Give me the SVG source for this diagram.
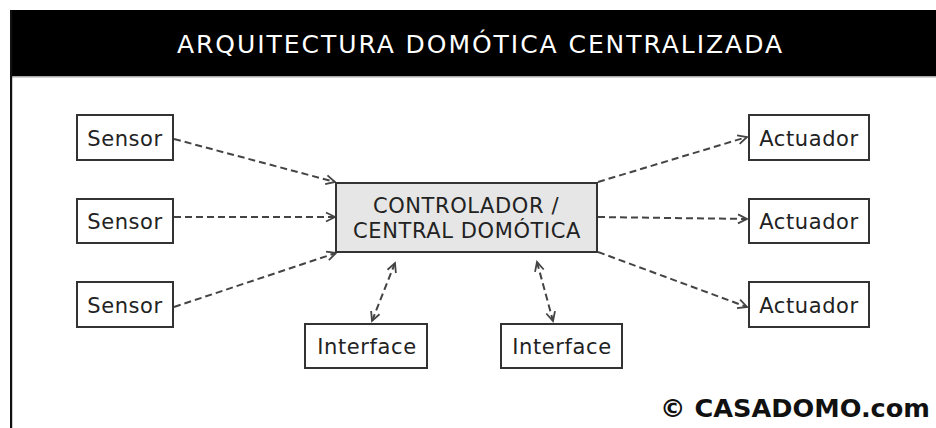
<svg xmlns="http://www.w3.org/2000/svg" width="936" height="428" viewBox="0 0 936 428">
<style>
.box{fill:#fff;stroke:#333;stroke-width:2}
.ctrl{fill:#e6e6e6;stroke:#333;stroke-width:2}
.lbl{font-family:"DejaVu Sans",Verdana,sans-serif;font-size:21px;fill:#222;text-anchor:middle;letter-spacing:0.6px}
.conn{fill:none;stroke:#444;stroke-width:2;stroke-dasharray:7 4}
</style>
<defs>
<marker id="ah" viewBox="0 0 12 12" refX="10" refY="6" markerWidth="12" markerHeight="12" markerUnits="userSpaceOnUse" orient="auto-start-reverse">
<path d="M1,1.5 L10,6 L1,10.5" fill="none" stroke="#444" stroke-width="1.8"/>
</marker>
</defs>
<rect x="0" y="0" width="936" height="428" fill="#fff"/>
<rect x="10" y="10" width="926" height="66" fill="#000"/>
<rect x="12" y="76" width="924" height="1.5" fill="#aaa"/>
<rect x="10" y="10" width="2.2" height="418" fill="#111"/>
<text x="177" y="53" textLength="605" lengthAdjust="spacing" font-family="'DejaVu Sans',Verdana,sans-serif" font-size="25" fill="#fff">ARQUITECTURA DOMÓTICA CENTRALIZADA</text>

<g id="connectors">
<line class="conn" x1="174" y1="139" x2="335" y2="182" marker-end="url(#ah)"/>
<line class="conn" x1="174" y1="217" x2="335" y2="217" marker-end="url(#ah)"/>
<line class="conn" x1="174" y1="307" x2="336" y2="253" marker-end="url(#ah)"/>
<line class="conn" x1="598" y1="182" x2="747" y2="137" marker-end="url(#ah)"/>
<line class="conn" x1="598" y1="217" x2="747" y2="219" marker-end="url(#ah)"/>
<line class="conn" x1="598" y1="252" x2="747" y2="307" marker-end="url(#ah)"/>
<line class="conn" x1="395" y1="263" x2="372" y2="321" marker-start="url(#ah)" marker-end="url(#ah)"/>
<line class="conn" x1="537" y1="262" x2="553" y2="321" marker-start="url(#ah)" marker-end="url(#ah)"/>
</g>

<g id="sensor1"><rect class="box" x="77" y="115" width="96" height="45"/><text class="lbl" x="125" y="146">Sensor</text></g>
<g id="sensor2"><rect class="box" x="77" y="199" width="96" height="44"/><text class="lbl" x="125" y="229">Sensor</text></g>
<g id="sensor3"><rect class="box" x="77" y="282" width="96" height="45"/><text class="lbl" x="125" y="313">Sensor</text></g>

<g id="controller"><rect class="ctrl" x="336" y="183" width="261" height="69"/>
<text class="lbl" x="466" y="213">CONTROLADOR /</text>
<text class="lbl" x="467" y="238">CENTRAL DOMÓTICA</text></g>

<g id="actuator1"><rect class="box" x="749" y="115" width="120" height="45"/><text class="lbl" x="809" y="146">Actuador</text></g>
<g id="actuator2"><rect class="box" x="749" y="199" width="120" height="44"/><text class="lbl" x="809" y="229">Actuador</text></g>
<g id="actuator3"><rect class="box" x="749" y="282" width="120" height="45"/><text class="lbl" x="809" y="313">Actuador</text></g>

<g id="interface1"><rect class="box" x="305" y="324" width="122" height="44"/><text class="lbl" x="367" y="354">Interface</text></g>
<g id="interface2"><rect class="box" x="501" y="324" width="121" height="44"/><text class="lbl" x="562" y="354">Interface</text></g>

<text x="660" y="417" textLength="270" lengthAdjust="spacingAndGlyphs" font-family="'DejaVu Sans',Verdana,sans-serif" font-weight="bold" font-size="25.5" fill="#111">© CASADOMO.com</text>
</svg>
